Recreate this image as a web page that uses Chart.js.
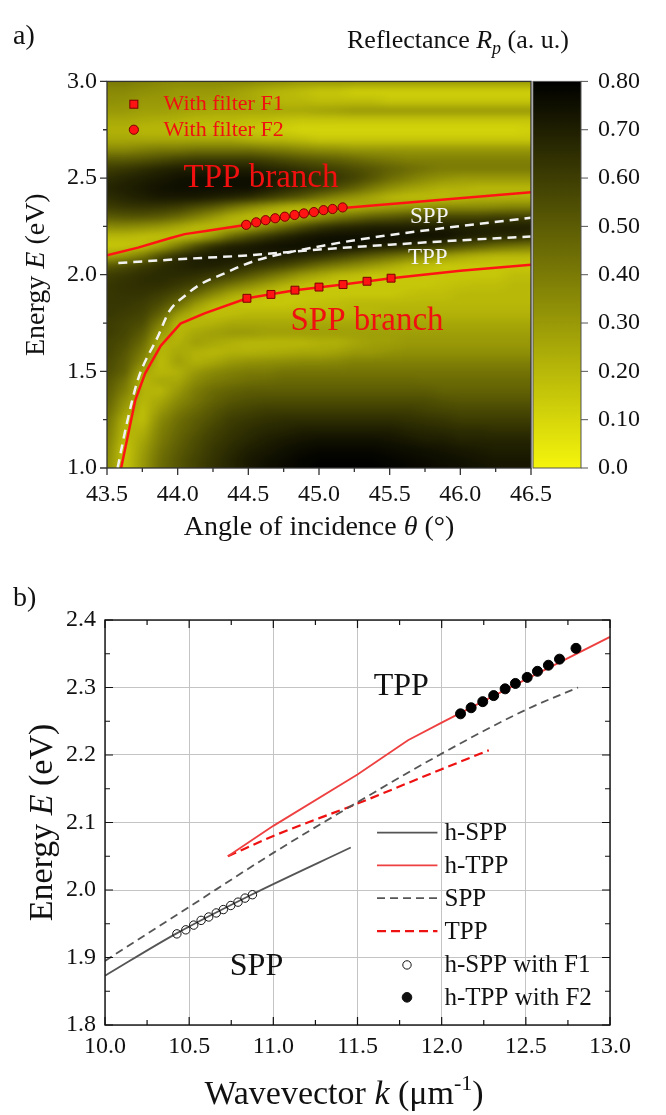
<!DOCTYPE html>
<html>
<head>
<meta charset="utf-8">
<script src="https://cdn.jsdelivr.net/npm/chart.js@4.4.1/dist/chart.umd.min.js"></script>
<style>
  body { margin: 0; background: #fff; width: 666px; height: 1115px; overflow: hidden; position: relative; }
  #chartA { position: absolute; left: 0; top: 0; }
  #chartB { position: absolute; left: 0; top: 560px; }
</style>
</head>
<body>
<canvas id="chartA" width="666" height="560"></canvas>
<canvas id="chartB" width="666" height="555"></canvas>
<script>
// ---------- panel a : reflectance map ----------
var heatTheta = [43.5,43.625,43.75,43.875,44.0,44.125,44.25,44.375,44.5,44.625,44.75,44.875,45.0,45.125,45.25,45.375,45.5,45.625,45.75,45.875,46.0,46.125,46.25,46.375,46.5];
var heatEnergy = [3.0,2.95,2.9,2.85,2.8,2.75,2.7,2.65,2.6,2.55,2.5,2.45,2.4,2.35,2.3,2.25,2.2,2.15,2.1,2.05,2.0,1.95,1.9,1.85,1.8,1.75,1.7,1.65,1.6,1.55,1.5,1.45,1.4,1.35,1.3,1.25,1.2,1.15,1.1,1.05,1.0];
var reflectance = [
  [0.40,0.40,0.38,0.36,0.35, 0.35,0.35,0.35,0.35,0.33, 0.32,0.30,0.30,0.30,0.30, 0.30,0.30,0.30,0.30,0.30, 0.30,0.30,0.30,0.30,0.30],
  [0.35,0.35,0.33,0.32,0.30, 0.30,0.30,0.28,0.25,0.22, 0.20,0.18,0.15,0.15,0.12, 0.12,0.12,0.12,0.12,0.12, 0.12,0.12,0.12,0.12,0.12],
  [0.33,0.32,0.30,0.30,0.28, 0.28,0.27,0.25,0.25,0.22, 0.20,0.20,0.18,0.18,0.18, 0.18,0.15,0.15,0.15,0.15, 0.15,0.15,0.15,0.15,0.15],
  [0.30,0.30,0.28,0.28,0.27, 0.26,0.25,0.25,0.25,0.25, 0.25,0.25,0.27,0.28,0.30, 0.30,0.30,0.30,0.30,0.30, 0.30,0.30,0.30,0.30,0.30],
  [0.25,0.25,0.24,0.23,0.22, 0.20,0.20,0.20,0.18,0.18, 0.16,0.15,0.15,0.15,0.15, 0.15,0.15,0.15,0.15,0.15, 0.15,0.15,0.15,0.15,0.15],
  [0.22,0.22,0.20,0.20,0.18, 0.18,0.16,0.15,0.15,0.13, 0.12,0.10,0.10,0.10,0.10, 0.10,0.10,0.10,0.10,0.10, 0.10,0.10,0.10,0.10,0.12],
  [0.25,0.25,0.25,0.25,0.25, 0.25,0.25,0.25,0.22,0.20, 0.20,0.18,0.15,0.15,0.15, 0.15,0.15,0.15,0.15,0.15, 0.15,0.15,0.15,0.15,0.15],
  [0.35,0.35,0.38,0.40,0.40, 0.42,0.42,0.42,0.42,0.40, 0.38,0.35,0.33,0.32,0.30, 0.30,0.30,0.30,0.30,0.30, 0.30,0.30,0.30,0.30,0.30],
  [0.50,0.50,0.52,0.55,0.58, 0.60,0.60,0.60,0.60,0.58, 0.55,0.52,0.50,0.48,0.45, 0.42,0.40,0.38,0.38,0.38, 0.38,0.38,0.38,0.38,0.38],
  [0.60,0.62,0.65,0.68,0.70, 0.70,0.70,0.70,0.70,0.68, 0.66,0.63,0.60,0.58,0.55, 0.52,0.48,0.45,0.42,0.40, 0.40,0.40,0.40,0.40,0.40],
  [0.65,0.68,0.70,0.72,0.74, 0.75,0.75,0.75,0.75,0.73, 0.70,0.68,0.65,0.62,0.58, 0.52,0.45,0.40,0.35,0.32, 0.30,0.30,0.30,0.30,0.30],
  [0.68,0.70,0.72,0.74,0.75, 0.75,0.75,0.75,0.75,0.72, 0.68,0.64,0.60,0.55,0.48, 0.40,0.33,0.28,0.25,0.22, 0.22,0.20,0.20,0.20,0.20],
  [0.65,0.68,0.70,0.72,0.72, 0.72,0.70,0.68,0.65,0.60, 0.55,0.50,0.42,0.35,0.30, 0.25,0.20,0.18,0.18,0.18, 0.20,0.22,0.22,0.22,0.22],
  [0.60,0.62,0.63,0.62,0.60, 0.55,0.50,0.42,0.35,0.28, 0.22,0.18,0.18,0.20,0.22, 0.25,0.28,0.30,0.32,0.35, 0.35,0.35,0.36,0.38,0.38],
  [0.50,0.52,0.52,0.50,0.45, 0.38,0.30,0.22,0.18,0.15, 0.18,0.25,0.32,0.40,0.45, 0.50,0.52,0.55,0.55,0.58, 0.58,0.58,0.60,0.60,0.60],
  [0.35,0.35,0.33,0.30,0.25, 0.20,0.18,0.20,0.25,0.35, 0.45,0.55,0.62,0.66,0.68, 0.70,0.70,0.70,0.70,0.70, 0.70,0.70,0.70,0.70,0.70],
  [0.20,0.20,0.18,0.17,0.17, 0.20,0.30,0.45,0.55,0.62, 0.68,0.72,0.74,0.75,0.75, 0.75,0.75,0.75,0.75,0.75, 0.72,0.70,0.68,0.68,0.65],
  [0.15,0.15,0.17,0.25,0.40, 0.55,0.65,0.70,0.72,0.74, 0.75,0.75,0.75,0.75,0.75, 0.72,0.70,0.68,0.65,0.60, 0.55,0.50,0.45,0.42,0.40],
  [0.25,0.30,0.40,0.55,0.65, 0.70,0.72,0.72,0.72,0.70, 0.70,0.68,0.65,0.60,0.55, 0.50,0.45,0.40,0.35,0.30, 0.25,0.22,0.20,0.20,0.20],
  [0.50,0.55,0.60,0.65,0.68, 0.70,0.70,0.68,0.65,0.62, 0.58,0.52,0.45,0.40,0.35, 0.30,0.25,0.20,0.18,0.15, 0.15,0.15,0.15,0.15,0.15],
  [0.60,0.62,0.65,0.66,0.66, 0.65,0.62,0.58,0.52,0.45, 0.38,0.30,0.25,0.20,0.18, 0.15,0.15,0.15,0.15,0.15, 0.15,0.15,0.15,0.18,0.18],
  [0.62,0.64,0.65,0.65,0.62, 0.58,0.50,0.42,0.35,0.28, 0.22,0.18,0.15,0.15,0.15, 0.15,0.15,0.15,0.15,0.16, 0.17,0.18,0.18,0.20,0.20],
  [0.62,0.63,0.63,0.60,0.55, 0.45,0.35,0.25,0.20,0.17, 0.15,0.15,0.15,0.15,0.15, 0.15,0.15,0.17,0.18,0.18, 0.20,0.20,0.20,0.20,0.20],
  [0.62,0.62,0.60,0.55,0.45, 0.30,0.20,0.17,0.15,0.15, 0.15,0.16,0.17,0.18,0.20, 0.20,0.20,0.20,0.20,0.20, 0.20,0.20,0.20,0.20,0.20],
  [0.62,0.60,0.58,0.48,0.30, 0.20,0.17,0.18,0.20,0.20, 0.20,0.20,0.20,0.20,0.20, 0.20,0.22,0.22,0.22,0.22, 0.22,0.22,0.22,0.22,0.22],
  [0.60,0.58,0.55,0.38,0.20, 0.20,0.22,0.25,0.25,0.25, 0.25,0.25,0.25,0.25,0.25, 0.25,0.25,0.25,0.25,0.25, 0.25,0.25,0.25,0.25,0.25],
  [0.60,0.57,0.50,0.30,0.20, 0.25,0.28,0.30,0.30,0.28, 0.28,0.28,0.28,0.28,0.28, 0.28,0.28,0.28,0.28,0.28, 0.28,0.28,0.28,0.28,0.28],
  [0.58,0.55,0.45,0.22,0.22, 0.28,0.25,0.22,0.20,0.20, 0.20,0.20,0.22,0.22,0.25, 0.28,0.28,0.30,0.30,0.30, 0.30,0.30,0.30,0.30,0.30],
  [0.58,0.52,0.40,0.20,0.25, 0.22,0.20,0.22,0.22,0.23, 0.24,0.25,0.25,0.27,0.30, 0.30,0.32,0.33,0.33,0.33, 0.33,0.33,0.33,0.33,0.33],
  [0.56,0.50,0.35,0.18,0.28, 0.22,0.25,0.30,0.32,0.33, 0.34,0.35,0.35,0.36,0.38, 0.38,0.38,0.38,0.38,0.38, 0.38,0.38,0.38,0.38,0.38],
  [0.55,0.48,0.25,0.20,0.22, 0.30,0.35,0.38,0.40,0.40, 0.42,0.42,0.42,0.42,0.42, 0.42,0.42,0.42,0.42,0.42, 0.42,0.42,0.42,0.42,0.42],
  [0.52,0.42,0.20,0.25,0.25, 0.35,0.40,0.42,0.44,0.45, 0.46,0.46,0.46,0.46,0.46, 0.46,0.46,0.46,0.45,0.45, 0.45,0.45,0.45,0.45,0.45],
  [0.50,0.38,0.22,0.20,0.30, 0.40,0.45,0.48,0.50,0.50, 0.50,0.50,0.50,0.50,0.50, 0.50,0.50,0.50,0.50,0.48, 0.48,0.48,0.48,0.48,0.48],
  [0.48,0.32,0.20,0.25,0.35, 0.42,0.48,0.52,0.54,0.55, 0.55,0.55,0.55,0.55,0.55, 0.55,0.55,0.55,0.55,0.53, 0.52,0.52,0.52,0.52,0.52],
  [0.45,0.28,0.18,0.30,0.40, 0.46,0.52,0.56,0.58,0.60, 0.60,0.60,0.60,0.60,0.60, 0.60,0.60,0.60,0.58,0.57, 0.56,0.56,0.56,0.56,0.56],
  [0.42,0.22,0.18,0.35,0.44, 0.50,0.55,0.60,0.62,0.64, 0.65,0.65,0.65,0.65,0.65, 0.65,0.65,0.64,0.63,0.62, 0.60,0.60,0.60,0.60,0.60],
  [0.40,0.20,0.22,0.38,0.46, 0.52,0.58,0.62,0.65,0.67, 0.68,0.70,0.70,0.70,0.70, 0.70,0.70,0.68,0.67,0.66, 0.65,0.65,0.64,0.64,0.64],
  [0.38,0.18,0.25,0.40,0.48, 0.55,0.60,0.64,0.67,0.70, 0.72,0.73,0.74,0.74,0.74, 0.74,0.73,0.72,0.70,0.70, 0.68,0.68,0.68,0.68,0.68],
  [0.36,0.15,0.28,0.42,0.50, 0.56,0.62,0.66,0.70,0.72, 0.74,0.76,0.77,0.77,0.77, 0.77,0.76,0.75,0.74,0.73, 0.72,0.71,0.70,0.70,0.70],
  [0.34,0.15,0.30,0.44,0.52, 0.58,0.63,0.68,0.72,0.74, 0.76,0.78,0.79,0.79,0.79, 0.79,0.78,0.77,0.76,0.75, 0.74,0.73,0.72,0.72,0.72],
  [0.33,0.15,0.30,0.45,0.52, 0.58,0.64,0.68,0.72,0.75, 0.77,0.78,0.80,0.80,0.80, 0.80,0.79,0.78,0.77,0.76, 0.75,0.74,0.73,0.73,0.73]
];

var thetaUpper = [43.5, 43.72, 43.95, 44.05, 44.2, 44.49, 44.83, 45.17, 45.7, 46.5];
var energyUpper = [2.10, 2.14, 2.19, 2.21, 2.226, 2.258, 2.305, 2.345, 2.378, 2.427];
var thetaLower = [43.6, 43.7, 43.77, 43.88, 44.02, 44.19, 44.49, 44.83, 45.17, 45.51, 46.0, 46.5];
var energyLower = [1.0, 1.35, 1.49, 1.632, 1.747, 1.80, 1.878, 1.92, 1.949, 1.982, 2.02, 2.052];
var thetaSppDash = [43.575, 43.64, 43.72, 43.86, 43.94, 44.05, 44.16, 44.31, 44.54, 45.03, 45.45, 45.87, 46.5];
var energySppDash = [1.0, 1.23, 1.46, 1.68, 1.81, 1.89, 1.95, 2.0, 2.07, 2.15, 2.2, 2.24, 2.295];
var thetaTppDash = [43.58, 44.0, 44.5, 45.0, 45.5, 46.0, 46.5];
var energyTppDash = [2.06, 2.08, 2.10, 2.13, 2.155, 2.178, 2.197];
var thetaF1 = [44.49, 44.66, 44.83, 45.0, 45.17, 45.34, 45.51];
var energyF1 = [1.878, 1.898, 1.92, 1.936, 1.949, 1.966, 1.982];
var thetaF2 = [44.485, 44.556, 44.622, 44.69, 44.758, 44.827, 44.893, 44.964, 45.032, 45.096, 45.167];
var energyF2 = [2.258, 2.271, 2.282, 2.292, 2.300, 2.309, 2.317, 2.324, 2.334, 2.340, 2.348];

var labelTextA = ['TPP branch', 'SPP branch', 'SPP', 'TPP'];
var labelThetaA = [44.59, 45.34, 45.78, 45.77];
var labelEnergyA = [2.50, 1.76, 2.30, 2.085];

// ---------- panel b : dispersion ----------
var kHspp = [10.0, 10.42, 10.87, 11.46];
var eHspp = [1.873, 1.935, 1.993, 2.063];
var kHtpp = [10.73, 11.0, 11.5, 11.8, 12.0, 12.5, 13.0];
var eHtpp = [2.05, 2.095, 2.171, 2.222, 2.248, 2.312, 2.375];
var kSpp = [10.0, 10.5, 11.0, 11.5, 12.0, 12.5, 12.81];
var eSpp = [1.895, 1.975, 2.055, 2.13, 2.202, 2.267, 2.30];
var kTpp = [10.73, 11.0, 11.5, 12.0, 12.28];
var eTpp = [2.05, 2.08, 2.128, 2.179, 2.207];
var kF1 = [10.427, 10.48, 10.527, 10.571, 10.616, 10.661, 10.703, 10.747, 10.79, 10.832, 10.876];
var eF1 = [1.935, 1.941, 1.948, 1.955, 1.960, 1.966, 1.971, 1.977, 1.982, 1.988, 1.993];
var kF2 = [12.112, 12.175, 12.244, 12.309, 12.377, 12.438, 12.508, 12.569, 12.634, 12.70, 12.798];
var eF2 = [2.261, 2.270, 2.279, 2.288, 2.298, 2.306, 2.315, 2.324, 2.333, 2.342, 2.358];

var legendLabelsB = ['h-SPP', 'h-TPP', 'SPP', 'TPP', 'h-SPP with F1', 'h-TPP with F2'];
var legendEnergyB = [2.085, 2.0365, 1.988, 1.939, 1.889, 1.841];

var SERIF = "'Liberation Serif', 'Times New Roman', serif";
Chart.defaults.font.family = SERIF;
Chart.defaults.color = '#111';

function pts(xs, ys) {
    return xs.map(function (x, i) { return {x: x, y: ys[i]}; });
}

function reflColor(v) {
    var t = Math.min(Math.max(v / 0.8, 0), 1);
    var r = Math.round(245 * (1 - t));
    var b = Math.round(12 * (1 - t));
    return [r, r, b];
}

function richText(ctx, parts, x, y, align) {
    var w = 0;
    parts.forEach(function (p) { ctx.font = p.font; p.w = ctx.measureText(p.text).width; w += p.w; });
    var cx = align === 'center' ? x - w / 2 : x;
    ctx.textAlign = 'left';
    ctx.textBaseline = 'alphabetic';
    parts.forEach(function (p) { ctx.font = p.font; ctx.fillText(p.text, cx, y + (p.dy || 0)); cx += p.w; });
}

// ticks drawn from the scale's own tick values, with a minor tick between each pair
function tickMarks(ctx, scale, side, a, dir, majorLen, minorLen) {
    var vals = scale.ticks.map(function (t) { return t.value; });
    var marks = vals.map(function (v) { return [v, majorLen]; });
    for (var i = 0; i < vals.length - 1; i++) marks.push([(vals[i] + vals[i + 1]) / 2, minorLen]);
    ctx.beginPath();
    marks.forEach(function (m) {
        var p = scale.getPixelForValue(m[0]);
        var l = m[1] * dir;
        if (side === 'bottom') { ctx.moveTo(p, a.bottom); ctx.lineTo(p, a.bottom + l); }
        if (side === 'top') { ctx.moveTo(p, a.top); ctx.lineTo(p, a.top - l); }
        if (side === 'left') { ctx.moveTo(a.left, p); ctx.lineTo(a.left - l, p); }
        if (side === 'right') { ctx.moveTo(a.right, p); ctx.lineTo(a.right + l, p); }
    });
    ctx.stroke();
}

var heatmapPlugin = {
    id: 'heatmap',
    beforeDatasetsDraw: function (chart) {
        var ctx = chart.ctx, a = chart.chartArea, sx = chart.scales.x, sy = chart.scales.y;
        var nx = heatTheta.length, ny = heatEnergy.length, pad = 2;
        var off = document.createElement('canvas');
        off.width = nx + 2 * pad; off.height = ny + 2 * pad;
        var octx = off.getContext('2d');
        var img = octx.createImageData(off.width, off.height);
        for (var jj = 0; jj < off.height; jj++) {
            var j = Math.min(Math.max(jj - pad, 0), ny - 1);
            for (var ii = 0; ii < off.width; ii++) {
                var i = Math.min(Math.max(ii - pad, 0), nx - 1);
                var c = reflColor(reflectance[j][i]);
                var p = (jj * off.width + ii) * 4;
                img.data[p] = c[0]; img.data[p + 1] = c[1]; img.data[p + 2] = c[2]; img.data[p + 3] = 255;
            }
        }
        octx.putImageData(img, 0, 0);
        var cw = heatTheta[1] - heatTheta[0], ch = heatEnergy[0] - heatEnergy[1];
        var x0 = sx.getPixelForValue(heatTheta[0] - cw / 2 - pad * cw);
        var x1 = sx.getPixelForValue(heatTheta[nx - 1] + cw / 2 + pad * cw);
        var y0 = sy.getPixelForValue(heatEnergy[0] + ch / 2 + pad * ch);
        var y1 = sy.getPixelForValue(heatEnergy[ny - 1] - ch / 2 - pad * ch);
        ctx.save();
        ctx.beginPath();
        ctx.rect(a.left, a.top, a.width, a.height);
        ctx.clip();
        ctx.imageSmoothingEnabled = true;
        ctx.filter = 'blur(2.5px)';
        ctx.drawImage(off, x0, y0, x1 - x0, y1 - y0);
        ctx.filter = 'none';
        ctx.restore();
    },
    afterDatasetsDraw: function (chart) {
        var ctx = chart.ctx, sx = chart.scales.x, sy = chart.scales.y;
        ctx.save();
        ctx.textAlign = 'center';
        ctx.textBaseline = 'middle';
        labelTextA.forEach(function (t, i) {
            var big = i < 2;
            ctx.fillStyle = big ? '#f01010' : '#f4f4f4';
            ctx.font = (big ? '33px ' : '23px ') + SERIF;
            ctx.fillText(t, sx.getPixelForValue(labelThetaA[i]), sy.getPixelForValue(labelEnergyA[i]));
        });
        // legend with the two marker kinds
        var lx = sx.getPixelForValue(43.69), tx = sx.getPixelForValue(43.90);
        var ly1 = sy.getPixelForValue(2.882), ly2 = sy.getPixelForValue(2.75);
        ctx.fillStyle = '#ff1414';
        ctx.strokeStyle = '#7a0000';
        ctx.lineWidth = 1;
        ctx.fillRect(lx - 4, ly1 - 4, 8, 8);
        ctx.strokeRect(lx - 4, ly1 - 4, 8, 8);
        ctx.beginPath();
        ctx.arc(lx, ly2, 4.6, 0, Math.PI * 2);
        ctx.fill();
        ctx.stroke();
        ctx.fillStyle = '#f01010';
        ctx.font = '22px ' + SERIF;
        ctx.textAlign = 'left';
        ctx.fillText('With filter F1', tx, ly1);
        ctx.fillText('With filter F2', tx, ly2);
        ctx.restore();
    },
    afterDraw: function (chart) {
        var ctx = chart.ctx, a = chart.chartArea, cb = chart.scales.cb;
        ctx.save();
        // colorbar
        var cbL = cb.left + 2, cbR = cb.left + 50;
        var yTop = cb.getPixelForValue(0.8), yBot = cb.getPixelForValue(0);
        var g = ctx.createLinearGradient(0, yBot, 0, yTop);
        var c0 = reflColor(0), c1 = reflColor(0.8);
        g.addColorStop(0, 'rgb(' + c0.join(',') + ')');
        g.addColorStop(1, 'rgb(' + c1.join(',') + ')');
        ctx.fillStyle = g;
        ctx.fillRect(cbL, yTop, cbR - cbL, yBot - yTop);
        ctx.strokeStyle = '#555';
        ctx.lineWidth = 1;
        ctx.strokeRect(cbL, yTop, cbR - cbL, yBot - yTop);
        ctx.beginPath();
        cb.ticks.forEach(function (t) {
            var p = cb.getPixelForValue(t.value);
            ctx.moveTo(cbR, p); ctx.lineTo(cbR + 7, p);
        });
        ctx.stroke();
        // frame and outward ticks
        ctx.strokeStyle = '#333';
        ctx.lineWidth = 1.3;
        ctx.strokeRect(a.left, a.top, a.width, a.height);
        tickMarks(ctx, chart.scales.x, 'bottom', a, 1, 7, 4);
        tickMarks(ctx, chart.scales.y, 'left', a, 1, 7, 4);
        // titles
        ctx.fillStyle = '#111';
        richText(ctx, [
            {text: 'Angle of incidence ', font: '28px ' + SERIF},
            {text: 'θ', font: 'italic 28px ' + SERIF},
            {text: ' (°)', font: '28px ' + SERIF}
        ], (a.left + a.right) / 2, 535, 'center');
        ctx.save();
        ctx.translate(44, (a.top + a.bottom) / 2);
        ctx.rotate(-Math.PI / 2);
        richText(ctx, [
            {text: 'Energy ', font: '28px ' + SERIF},
            {text: 'E', font: 'italic 28px ' + SERIF},
            {text: ' (eV)', font: '28px ' + SERIF}
        ], 0, 0, 'center');
        ctx.restore();
        richText(ctx, [
            {text: 'Reflectance ', font: '26px ' + SERIF},
            {text: 'R', font: 'italic 26px ' + SERIF},
            {text: 'p', font: 'italic 18px ' + SERIF, dy: 6},
            {text: ' (a. u.)', font: '26px ' + SERIF}
        ], 347, 48, 'left');
        richText(ctx, [{text: 'a)', font: '28px ' + SERIF}], 13, 44, 'left');
        ctx.restore();
    }
};

var tickFont = {size: 24, family: SERIF};

new Chart(document.getElementById('chartA'), {
    type: 'scatter',
    data: {
        datasets: [
            {data: pts(thetaF2, energyF2), pointStyle: 'circle', pointRadius: 4.6, backgroundColor: '#ff1414', borderColor: '#7a0000', borderWidth: 1},
            {data: pts(thetaF1, energyF1), pointStyle: 'rect', pointRadius: 5.6, backgroundColor: '#ff1414', borderColor: '#7a0000', borderWidth: 1},
            {data: pts(thetaUpper, energyUpper), showLine: true, borderColor: '#ff1414', borderWidth: 2.5, pointRadius: 0},
            {data: pts(thetaLower, energyLower), showLine: true, borderColor: '#ff1414', borderWidth: 2.5, pointRadius: 0},
            {data: pts(thetaSppDash, energySppDash), showLine: true, borderColor: '#f2f2f2', borderWidth: 2.5, borderDash: [9, 6], pointRadius: 0, cubicInterpolationMode: 'monotone'},
            {data: pts(thetaTppDash, energyTppDash), showLine: true, borderColor: '#f2f2f2', borderWidth: 2.5, borderDash: [9, 6], pointRadius: 0, cubicInterpolationMode: 'monotone'}
        ]
    },
    options: {
        responsive: false,
        animation: false,
        layout: {padding: {top: 62, left: 0, right: 0, bottom: 0}},
        plugins: {legend: {display: false}, tooltip: {enabled: false}},
        scales: {
            x: {
                type: 'linear', min: 43.5, max: 46.5,
                grid: {display: false, drawTicks: false}, border: {display: false},
                ticks: {stepSize: 0.5, padding: 12, font: tickFont, color: '#111', maxRotation: 0, autoSkip: false,
                        callback: function (v) { return v.toFixed(1); }},
                afterFit: function (s) { s.height = 92; }
            },
            y: {
                type: 'linear', min: 1, max: 3,
                grid: {display: false, drawTicks: false}, border: {display: false},
                ticks: {stepSize: 0.5, padding: 10, font: tickFont, color: '#111',
                        callback: function (v) { return v.toFixed(1); }},
                afterFit: function (s) { s.width = 107; }
            },
            cb: {
                type: 'linear', position: 'right', min: 0, max: 0.8,
                grid: {display: false, drawTicks: false}, border: {display: false},
                ticks: {stepSize: 0.1, padding: 67, font: tickFont, color: '#111',
                        callback: function (v) { return v === 0 ? '0.0' : v.toFixed(2); }},
                afterFit: function (s) { s.width = 135; }
            }
        }
    },
    plugins: [heatmapPlugin]
});

// ---------- panel b ----------
var decorB = {
    id: 'decorB',
    afterDatasetsDraw: function (chart) {
        var ctx = chart.ctx, sx = chart.scales.x, sy = chart.scales.y;
        ctx.save();
        ctx.fillStyle = '#111';
        ctx.textAlign = 'center';
        ctx.textBaseline = 'middle';
        ctx.font = '32px ' + SERIF;
        ctx.fillText('TPP', sx.getPixelForValue(11.76), sy.getPixelForValue(2.302));
        ctx.fillText('SPP', sx.getPixelForValue(10.90), sy.getPixelForValue(1.887));
        // legend
        var x0 = sx.getPixelForValue(11.616), x1 = sx.getPixelForValue(11.975);
        var xm = sx.getPixelForValue(11.794), xt = sx.getPixelForValue(12.017);
        var styles = [
            {c: '#555', dash: []}, {c: '#ee4040', dash: []},
            {c: '#555', dash: [8, 5]}, {c: '#ee1111', dash: [9, 5]}
        ];
        legendLabelsB.forEach(function (t, i) {
            var y = sy.getPixelForValue(legendEnergyB[i]);
            if (i < 4) {
                ctx.strokeStyle = styles[i].c;
                ctx.setLineDash(styles[i].dash);
                ctx.lineWidth = i === 3 ? 2.2 : 1.8;
                ctx.beginPath(); ctx.moveTo(x0, y); ctx.lineTo(x1, y); ctx.stroke();
                ctx.setLineDash([]);
            } else {
                ctx.beginPath();
                ctx.arc(xm, y, i === 4 ? 4.2 : 4.8, 0, Math.PI * 2);
                ctx.lineWidth = 1;
                ctx.strokeStyle = '#111';
                if (i === 5) { ctx.fillStyle = '#111'; ctx.fill(); }
                ctx.stroke();
            }
            ctx.fillStyle = '#111';
            ctx.font = '25px ' + SERIF;
            ctx.textAlign = 'left';
            ctx.fillText(t, xt, y + 1);
        });
        ctx.restore();
    },
    afterDraw: function (chart) {
        var ctx = chart.ctx, a = chart.chartArea, sx = chart.scales.x, sy = chart.scales.y;
        ctx.save();
        ctx.strokeStyle = '#111';
        ctx.lineWidth = 1.4;
        ctx.strokeRect(a.left, a.top, a.width, a.height);
        ctx.lineWidth = 1.2;
        tickMarks(ctx, sx, 'bottom', a, -1, 8, 5);
        tickMarks(ctx, sx, 'top', a, -1, 8, 5);
        tickMarks(ctx, sy, 'left', a, -1, 8, 5);
        tickMarks(ctx, sy, 'right', a, -1, 8, 5);
        ctx.fillStyle = '#111';
        richText(ctx, [
            {text: 'Wavevector ', font: '34px ' + SERIF},
            {text: 'k', font: 'italic 34px ' + SERIF},
            {text: ' (μm', font: '34px ' + SERIF},
            {text: '-1', font: '22px ' + SERIF, dy: -14},
            {text: ')', font: '34px ' + SERIF}
        ], 344, 544, 'center');
        ctx.save();
        ctx.translate(52, (a.top + a.bottom) / 2);
        ctx.rotate(-Math.PI / 2);
        richText(ctx, [
            {text: 'Energy ', font: '34px ' + SERIF},
            {text: 'E', font: 'italic 34px ' + SERIF},
            {text: ' (eV)', font: '34px ' + SERIF}
        ], 0, 0, 'center');
        ctx.restore();
        richText(ctx, [{text: 'b)', font: '28px ' + SERIF}], 13, 46, 'left');
        ctx.restore();
    }
};

new Chart(document.getElementById('chartB'), {
    type: 'scatter',
    data: {
        datasets: [
            {data: pts(kF2, eF2), pointStyle: 'circle', pointRadius: 5, backgroundColor: '#000', borderColor: '#000', borderWidth: 1},
            {data: pts(kF1, eF1), pointStyle: 'circle', pointRadius: 4.2, backgroundColor: 'rgba(255,255,255,0)', borderColor: '#111', borderWidth: 1},
            {data: pts(kHspp, eHspp), showLine: true, borderColor: '#555', borderWidth: 1.8, pointRadius: 0, cubicInterpolationMode: 'monotone'},
            {data: pts(kHtpp, eHtpp), showLine: true, borderColor: '#ee4040', borderWidth: 1.8, pointRadius: 0},
            {data: pts(kSpp, eSpp), showLine: true, borderColor: '#555', borderWidth: 1.8, borderDash: [8, 5], pointRadius: 0, cubicInterpolationMode: 'monotone'},
            {data: pts(kTpp, eTpp), showLine: true, borderColor: '#ee1111', borderWidth: 2.2, borderDash: [9, 5], pointRadius: 0, cubicInterpolationMode: 'monotone'}
        ]
    },
    options: {
        responsive: false,
        animation: false,
        layout: {padding: {top: 60, left: 0, right: 56, bottom: 0}},
        plugins: {legend: {display: false}, tooltip: {enabled: false}},
        scales: {
            x: {
                type: 'linear', min: 10, max: 13,
                grid: {color: '#c4c4c4', lineWidth: 1, drawTicks: false}, border: {display: false},
                ticks: {stepSize: 0.5, padding: 7, font: tickFont, color: '#111', maxRotation: 0, autoSkip: false,
                        callback: function (v) { return v.toFixed(1); }},
                afterFit: function (s) { s.height = 90; }
            },
            y: {
                type: 'linear', min: 1.8, max: 2.4,
                grid: {color: '#c4c4c4', lineWidth: 1, drawTicks: false}, border: {display: false},
                ticks: {stepSize: 0.1, padding: 9, font: tickFont, color: '#111',
                        callback: function (v) { return v.toFixed(1); }},
                afterFit: function (s) { s.width = 105; }
            }
        }
    },
    plugins: [decorB]
});
</script>
</body>
</html>
